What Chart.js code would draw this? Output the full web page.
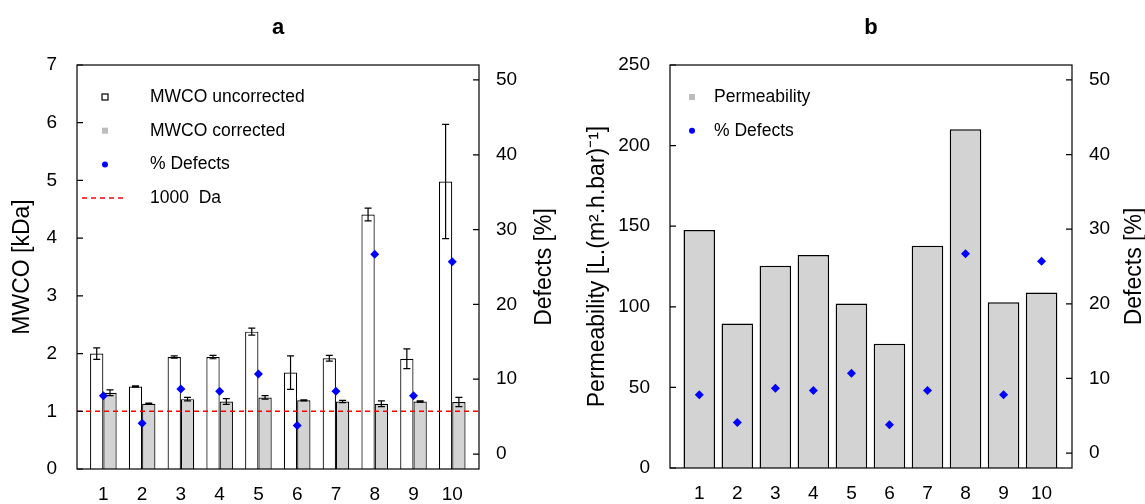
<!DOCTYPE html>
<html><head><meta charset="utf-8">
<script src="https://cdn.jsdelivr.net/npm/chart.js@4.4.1/dist/chart.umd.min.js"></script>
<style>
html,body{margin:0;padding:0;background:#fff;}
#wrap{position:relative;width:1145px;height:504px;overflow:hidden;}
#a{position:absolute;left:0;top:0;}
#b{position:absolute;left:572px;top:0;}
</style></head><body>
<div id="wrap"><canvas id="a" width="572" height="504"></canvas><canvas id="b" width="573" height="504"></canvas></div>
<script>
// ---- data ----
const categories = ['1','2','3','4','5','6','7','8','9','10'];
const mwcoUncorrected    = [2.00, 1.43, 1.94, 1.94, 2.38, 1.67, 1.92, 4.41, 1.91, 4.98];
const mwcoUncorrectedErr = [0.10, 0.01, 0.02, 0.03, 0.06, 0.29, 0.05, 0.11, 0.17, 0.99];
const mwcoCorrected      = [1.32, 1.13, 1.21, 1.17, 1.24, 1.19, 1.17, 1.13, 1.17, 1.16];
const mwcoCorrectedErr   = [0.05, 0.01, 0.03, 0.05, 0.03, 0.01, 0.02, 0.05, 0.01, 0.08];
const defectsPct         = [7.8, 4.1, 8.7, 8.4, 10.7, 3.8, 8.4, 26.7, 7.8, 25.7];
const permeability       = [147.7, 89.7, 125.4, 132.2, 102.1, 77.1, 137.8, 210.2, 102.9, 108.9];
const mwcoTicks   = [0, 1, 2, 3, 4, 5, 6, 7];
const defectTicks = [0, 10, 20, 30, 40, 50];
const permTicks   = [0, 50, 100, 150, 200, 250];
const limitKDa = 1; // 1000 Da

const FONT = "'Liberation Sans', Arial, sans-serif";
const xPos = categories.map((c, i) => i + 1);
const pts = arr => arr.map((v, i) => ({x: xPos[i], y: v}));

const framePlugin = {
  id: 'frame',
  afterDatasetsDraw(chart, args, o) {
    const ctx = chart.ctx, ca = chart.chartArea, y = chart.scales.y;
    ctx.save();
    if (o.refLine != null) {
      const py = y.getPixelForValue(o.refLine);
      ctx.strokeStyle = '#ff0000'; ctx.lineWidth = 1.5; ctx.setLineDash([5, 4]);
      ctx.beginPath(); ctx.moveTo(ca.left, py); ctx.lineTo(ca.right, py); ctx.stroke();
      ctx.setLineDash([]);
    }
    (o.errors || []).forEach(e => {
      const meta = chart.getDatasetMeta(e.ds);
      ctx.strokeStyle = '#000'; ctx.lineWidth = 1.2;
      meta.data.forEach((el, j) => {
        const v = chart.data.datasets[e.ds].data[j].y, err = e.values[j];
        const y1 = y.getPixelForValue(v - err), y2 = y.getPixelForValue(v + err);
        const x = el.x, c = 3.5;
        ctx.beginPath();
        ctx.moveTo(x, y1); ctx.lineTo(x, y2);
        ctx.moveTo(x - c, y1); ctx.lineTo(x + c, y1);
        ctx.moveTo(x - c, y2); ctx.lineTo(x + c, y2);
        ctx.stroke();
      });
    });
    ctx.restore();
  },
  afterDraw(chart, args, o) {
    const ctx = chart.ctx, ca = chart.chartArea;
    ctx.save();
    // box
    ctx.strokeStyle = '#000'; ctx.lineWidth = 1.2;
    ctx.strokeRect(ca.left, ca.top, ca.right - ca.left, ca.bottom - ca.top);
    // inward ticks
    const yl = chart.scales.y, yr = chart.scales.y1;
    ctx.beginPath();
    yl.ticks.forEach(t => { const p = yl.getPixelForValue(t.value); ctx.moveTo(ca.left, p); ctx.lineTo(ca.left + 6, p); });
    yr.ticks.forEach(t => { const p = yr.getPixelForValue(t.value); ctx.moveTo(ca.right - 6, p); ctx.lineTo(ca.right, p); });
    ctx.stroke();
    // title
    ctx.fillStyle = '#000';
    ctx.font = 'bold 22px ' + FONT; ctx.textAlign = 'center'; ctx.textBaseline = 'middle';
    ctx.fillText(o.title, (ca.left + ca.right) / 2, 28);
    // axis titles
    ctx.font = '23px ' + FONT;
    const cy = (ca.top + ca.bottom) / 2;
    [[o.leftTitle, ca.left - o.leftTitleOff], [o.rightTitle, ca.right + o.rightTitleOff]].forEach(([t, x]) => {
      ctx.save(); ctx.translate(x, cy); ctx.rotate(-Math.PI / 2);
      ctx.fillText(t, 0, 0); ctx.restore();
    });
    // legend
    ctx.font = '17.5px ' + FONT; ctx.textAlign = 'left'; ctx.textBaseline = 'middle';
    o.legend.forEach((it, i) => {
      const sy = ca.top + 32 + i * 33.7, sx = ca.left + o.legSym;
      if (it.kind === 'open') { ctx.strokeStyle = '#000'; ctx.lineWidth = 1.2; ctx.strokeRect(sx - 3, sy - 3, 6, 6); }
      else if (it.kind === 'gray') { ctx.fillStyle = '#bdbdbd'; ctx.fillRect(sx - 3, sy - 3, 6, 6); }
      else if (it.kind === 'dot') { ctx.fillStyle = '#0000ff'; ctx.beginPath(); ctx.arc(sx, sy, 3, 0, 2 * Math.PI); ctx.fill(); }
      else if (it.kind === 'dash') { ctx.strokeStyle = '#ff0000'; ctx.lineWidth = 1.5; ctx.setLineDash([5, 4]); ctx.beginPath(); ctx.moveTo(sx - 23, sy); ctx.lineTo(sx + 22, sy); ctx.stroke(); ctx.setLineDash([]); }
      ctx.fillStyle = '#000';
      ctx.fillText(it.text, ca.left + o.legText, sy);
    });
    ctx.restore();
  }
};

function baseOptions(xMin, xMax, yMax, yTicks, leftW, rightW, xH, plug) {
  const tickFont = {family: FONT, size: 19};
  return {
    responsive: false, animation: false, devicePixelRatio: 1,
    layout: {padding: {top: 65, left: 0, right: 0, bottom: 0}},
    plugins: {legend: {display: false}, tooltip: {enabled: false}, frame: plug},
    scales: {
      x: {type: 'linear', min: xMin, max: xMax, offset: false,
          grid: {display: false, drawTicks: false}, border: {display: false},
          afterBuildTicks: s => { s.ticks = xPos.map(v => ({value: v})); },
          afterFit: s => { s.height = xH; },
          ticks: {font: tickFont, color: '#000', padding: 14, autoSkip: false, maxRotation: 0,
                  callback: v => categories[v - 1] ?? ''}},
      y: {position: 'left', min: 0, max: yMax,
          grid: {display: false, drawTicks: false}, border: {display: false},
          afterBuildTicks: s => { s.ticks = yTicks.map(v => ({value: v})); },
          afterFit: s => { s.width = leftW; },
          ticks: {font: tickFont, color: '#000', padding: 20}},
      y1: {position: 'right', min: -2, max: 52,
          grid: {display: false, drawTicks: false}, border: {display: false},
          afterBuildTicks: s => { s.ticks = defectTicks.map(v => ({value: v})); },
          afterFit: s => { s.width = rightW; },
          ticks: {font: tickFont, color: '#000', padding: 17}}
    }
  };
}

const defectStyle = {pointStyle: 'rectRot', pointRadius: 4.5, pointBackgroundColor: '#0000ff',
                     pointBorderColor: '#0000ff', pointBorderWidth: 0, showLine: false};

new Chart(document.getElementById('a'), {
  type: 'bar',
  data: {datasets: [
    {type: 'line', label: '% Defects', data: pts(defectsPct), yAxisID: 'y1', order: 0, ...defectStyle},
    {label: 'MWCO uncorrected', data: pts(mwcoUncorrected), backgroundColor: '#ffffff', borderColor: '#000', borderWidth: 1.2,
     categoryPercentage: 0.686, barPercentage: 1, yAxisID: 'y', order: 2},
    {label: 'MWCO corrected', data: pts(mwcoCorrected), backgroundColor: '#d3d3d3', borderColor: '#000', borderWidth: 1.2,
     categoryPercentage: 0.686, barPercentage: 1, yAxisID: 'y', order: 2}
  ]},
  options: baseOptions(0.32, 10.69, 7, mwcoTicks, 77, 93, 35, {
    title: 'a', leftTitle: 'MWCO [kDa]', rightTitle: 'Defects [%]', leftTitleOff: 54, rightTitleOff: 66,
    refLine: limitKDa,
    errors: [{ds: 1, values: mwcoUncorrectedErr}, {ds: 2, values: mwcoCorrectedErr}],
    legSym: 28, legText: 73,
    legend: [{kind: 'open', text: 'MWCO uncorrected'}, {kind: 'gray', text: 'MWCO corrected'},
             {kind: 'dot', text: '% Defects'}, {kind: 'dash', text: '1000  Da'}]
  }),
  plugins: [framePlugin]
});

new Chart(document.getElementById('b'), {
  type: 'bar',
  data: {datasets: [
    {type: 'line', label: '% Defects', data: pts(defectsPct), yAxisID: 'y1', order: 0, ...defectStyle},
    {label: 'Permeability', data: pts(permeability), backgroundColor: '#d3d3d3', borderColor: '#000', borderWidth: 1.5,
     categoryPercentage: 0.83, barPercentage: 1, yAxisID: 'y', order: 2}
  ]},
  options: baseOptions(0.23, 10.80, 250, permTicks, 98, 73, 36, {
    title: 'b', leftTitle: 'Permeability [L.(m\u00B2.h.bar)\u207B\u00B9]', rightTitle: 'Defects [%]',
    leftTitleOff: 72, rightTitleOff: 63, refLine: null, errors: [],
    legSym: 22, legText: 44,
    legend: [{kind: 'gray', text: 'Permeability'}, {kind: 'dot', text: '% Defects'}]
  }),
  plugins: [framePlugin]
});
</script>
</body></html>
